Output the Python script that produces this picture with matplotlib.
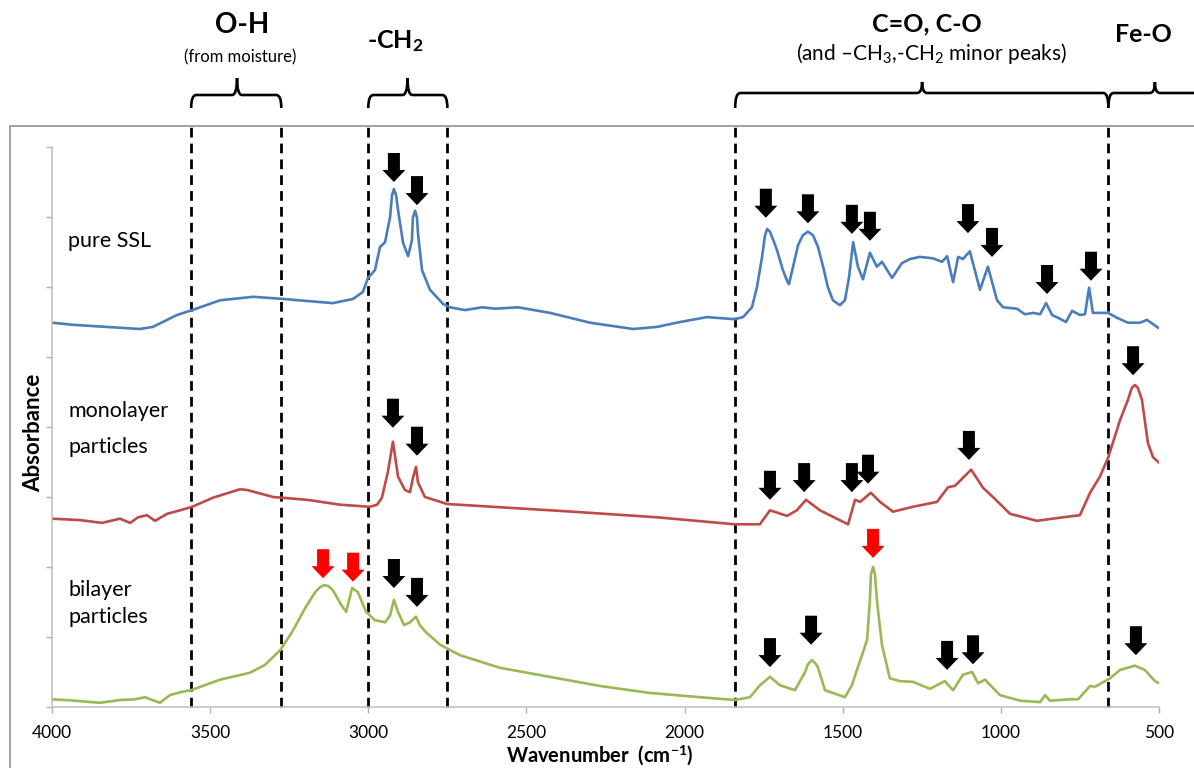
import matplotlib
matplotlib.use("Agg")
import matplotlib.pyplot as plt
from matplotlib.patches import Polygon, Rectangle, PathPatch
from matplotlib.path import Path
from matplotlib.transforms import ScaledTranslation, blended_transform_factory

plt.rcParams['font.family'] = ['Lato', 'DejaVu Sans']
plt.rcParams['mathtext.fontset'] = 'custom'
plt.rcParams['mathtext.rm'] = 'Lato'
plt.rcParams['mathtext.bf'] = 'Lato:bold'
plt.rcParams['mathtext.it'] = 'Lato:italic'

# ---------------- data ----------------
ssl_wn = [4000, 3934, 3722, 3681, 3605, 3557, 3469, 3364, 3270, 3194, 3112, 3048, 3017, 3001,
          2979, 2963, 2947, 2931, 2925, 2919, 2912, 2906, 2890, 2874, 2862, 2859, 2852, 2846,
          2843, 2830, 2805, 2764, 2742, 2694, 2640, 2599, 2527, 2425, 2299, 2163, 2087, 2014,
          1929, 1841, 1815, 1787, 1771, 1755, 1746, 1739, 1730, 1717, 1708, 1689, 1676, 1670,
          1657, 1641, 1626, 1610, 1594, 1578, 1562, 1547, 1531, 1509, 1493, 1480, 1467, 1452,
          1436, 1414, 1392, 1376, 1344, 1313, 1287, 1256, 1215, 1186, 1170, 1151, 1135, 1120,
          1098, 1066, 1041, 1012, 993, 949, 924, 898, 876, 857, 838, 819, 794, 775, 750, 734,
          721, 709, 661, 633, 598, 560, 538, 500]
ssl_abs = [5.49, 5.46, 5.40, 5.43, 5.60, 5.67, 5.81, 5.86, 5.83, 5.80, 5.77, 5.83, 5.93, 6.13,
           6.24, 6.57, 6.64, 7.00, 7.31, 7.40, 7.31, 7.10, 6.63, 6.44, 6.67, 6.99, 7.09, 6.99,
           6.77, 6.24, 5.96, 5.76, 5.71, 5.67, 5.71, 5.69, 5.71, 5.63, 5.49, 5.40, 5.43, 5.50,
           5.57, 5.54, 5.57, 5.71, 6.00, 6.43, 6.73, 6.83, 6.79, 6.64, 6.53, 6.24, 6.09, 6.04,
           6.29, 6.60, 6.74, 6.79, 6.74, 6.57, 6.29, 6.00, 5.81, 5.74, 5.81, 6.14, 6.64, 6.29,
           6.11, 6.49, 6.29, 6.36, 6.13, 6.34, 6.40, 6.43, 6.41, 6.36, 6.44, 6.07, 6.43, 6.40,
           6.51, 5.96, 6.29, 5.81, 5.71, 5.69, 5.61, 5.63, 5.61, 5.77, 5.60, 5.56, 5.50, 5.66,
           5.60, 5.61, 5.99, 5.63, 5.63, 5.56, 5.49, 5.49, 5.53, 5.41]

mono_wn = [4000, 3911, 3842, 3785, 3753, 3728, 3700, 3674, 3636, 3595, 3557, 3491, 3406, 3383,
           3301, 3194, 3089, 2995, 2972, 2957, 2938, 2922, 2906, 2884, 2868, 2859, 2849, 2843,
           2821, 2751, 2353, 2087, 1841, 1762, 1730, 1676, 1645, 1616, 1572, 1483, 1461, 1445,
           1411, 1382, 1341, 1278, 1202, 1167, 1145, 1094, 1056, 1025, 971, 886, 804, 750, 718,
           687, 661, 623, 598, 586, 576, 567, 554, 535, 519, 500]
mono_abs = [2.69, 2.67, 2.63, 2.69, 2.63, 2.71, 2.74, 2.66, 2.76, 2.81, 2.86, 2.99, 3.11, 3.10,
            3.00, 2.96, 2.89, 2.86, 2.89, 2.99, 3.36, 3.79, 3.29, 3.10, 3.07, 3.27, 3.43, 3.21,
            3.00, 2.90, 2.79, 2.71, 2.61, 2.61, 2.81, 2.73, 2.81, 2.96, 2.81, 2.61, 2.96, 2.93,
            3.06, 2.93, 2.79, 2.86, 2.93, 3.14, 3.16, 3.39, 3.13, 3.00, 2.76, 2.66, 2.71, 2.74,
            3.06, 3.29, 3.56, 4.10, 4.39, 4.56, 4.60, 4.56, 4.39, 3.77, 3.57, 3.49]

bi_wn = [4000, 3927, 3848, 3785, 3738, 3706, 3659, 3627, 3595, 3561, 3469, 3374, 3327, 3279,
         3241, 3200, 3168, 3153, 3140, 3127, 3112, 3086, 3070, 3051, 3033, 3007, 2979, 2947,
         2931, 2919, 2906, 2887, 2868, 2849, 2837, 2818, 2773, 2710, 2584, 2425, 2267, 2109,
         1951, 1841, 1793, 1762, 1730, 1698, 1651, 1619, 1610, 1597, 1584, 1578, 1556, 1493,
         1471, 1455, 1439, 1423, 1414, 1411, 1404, 1398, 1392, 1376, 1351, 1319, 1278, 1224,
         1177, 1151, 1120, 1091, 1072, 1050, 1003, 939, 876, 860, 845, 781, 756, 718, 702, 655,
         623, 576, 545, 513, 500]
bi_abs = [0.11, 0.09, 0.06, 0.10, 0.11, 0.14, 0.06, 0.17, 0.21, 0.24, 0.39, 0.49, 0.60, 0.81,
          1.07, 1.41, 1.64, 1.71, 1.74, 1.73, 1.67, 1.46, 1.36, 1.70, 1.64, 1.36, 1.24, 1.21,
          1.31, 1.53, 1.36, 1.17, 1.21, 1.29, 1.17, 1.07, 0.89, 0.74, 0.56, 0.43, 0.30, 0.20,
          0.14, 0.10, 0.14, 0.31, 0.43, 0.31, 0.24, 0.50, 0.61, 0.67, 0.61, 0.56, 0.24, 0.14,
          0.31, 0.53, 0.74, 0.96, 1.53, 1.89, 2.00, 1.89, 1.53, 0.89, 0.41, 0.37, 0.36, 0.26,
          0.37, 0.24, 0.46, 0.50, 0.34, 0.39, 0.17, 0.09, 0.07, 0.17, 0.09, 0.11, 0.11, 0.30,
          0.29, 0.41, 0.53, 0.59, 0.53, 0.37, 0.34]

ssl_arrow_wn = [2919, 2846, 1743, 1610, 1471, 1414, 1104, 1028, 854, 715]
ssl_arrow_abs = [7.50, 7.17, 6.99, 6.91, 6.76, 6.66, 6.77, 6.43, 5.90, 6.09]
mono_arrow_wn = [2922, 2846, 1730, 1622, 1471, 1420, 1101, 582]
mono_arrow_abs = [3.99, 3.59, 2.96, 3.07, 3.07, 3.19, 3.53, 4.74]
bi_arrow_wn = [2919, 2846, 1730, 1600, 1170, 1088, 573]
bi_arrow_abs = [1.70, 1.43, 0.57, 0.89, 0.53, 0.61, 0.74]
bi_red_arrow_wn = [3143, 3048, 1404]
bi_red_arrow_abs = [1.84, 1.79, 2.13]

region_edges = [3560, 3275, 3000, 2750, 1840, 660]
x_ticks = [4000, 3500, 3000, 2500, 2000, 1500, 1000, 500]

# ---------------- figure ----------------
W, H = 1194, 768
fig = plt.figure(figsize=(W / 100, H / 100), dpi=100)
fig.patch.set_facecolor('white')

# outer grey frame
fig.add_artist(Rectangle((10 / W, -0.05), 1.1, (768 - 126) / H + 0.05, transform=fig.transFigure,
                         fill=False, ec='#9a9a9a', lw=1.3))

ax = fig.add_axes([52 / W, 61 / H, 1107 / W, 560 / H])
ax.set_facecolor('none')

blue, red, green = '#4A7EBB', '#BE4B48', '#98B954'
for xs, ys, c in [(ssl_wn, ssl_abs, blue), (mono_wn, mono_abs, red), (bi_wn, bi_abs, green)]:
    ax.plot(xs, ys, color=c, lw=1.9, solid_joinstyle='round', solid_capstyle='round')

ax.set_xlim(4000, 500)
ax.set_ylim(0, 8)
ax.set_xticks(x_ticks)
ax.set_xticklabels([str(t) for t in x_ticks], fontsize=12.5)
ax.set_yticks(range(0, 9))
ax.set_yticklabels([])
ax.tick_params(axis='both', direction='out', length=4, width=1, color='#b0b0b0', pad=9)
for s in ['top', 'right']:
    ax.spines[s].set_visible(False)
for s in ['left', 'bottom']:
    ax.spines[s].set_color('#bdbdbd')
    ax.spines[s].set_linewidth(1.1)

# dashed region boundaries (extend up to the frame)
for e in region_edges:
    ax.axvline(e, ymin=0, ymax=(707 - 125) / 560, color='black', lw=2.0,
               ls=(0, (3.5, 2.2)), clip_on=False, zorder=1)

# block arrows pointing down at peaks
def arrow(wn, ab, color):
    tr = fig.dpi_scale_trans + ScaledTranslation(wn, ab, ax.transData)
    L, hl, hw, sw = 0.29, 0.12, 0.115, 0.06
    verts = [(0, 0), (-hw, hl), (-sw, hl), (-sw, L), (sw, L), (sw, hl), (hw, hl)]
    fig.add_artist(Polygon(verts, closed=True, transform=tr, fc=color, ec='none',
                           clip_on=False, zorder=5))

for w_, a_ in zip(ssl_arrow_wn, ssl_arrow_abs):
    arrow(w_, a_, 'black')
for w_, a_ in zip(mono_arrow_wn, mono_arrow_abs):
    arrow(w_, a_, 'black')
for w_, a_ in zip(bi_arrow_wn, bi_arrow_abs):
    arrow(w_, a_, 'black')
for w_, a_ in zip(bi_red_arrow_wn, bi_red_arrow_abs):
    arrow(w_, a_, '#FF0000')

# curly brackets above the plot (x in data, y in figure pixels from top)
btr = blended_transform_factory(ax.transData, fig.transFigure)
def fy(py):
    return (H - py) / H

def bracket(x0, x1, xc, y_line, y_end, y_top):
    r = 5 / 0.3163  # ~5 px radius in wavenumber units
    verts = [(x0, fy(y_end)), (x0, fy(y_line)), (x0 - r, fy(y_line)),
             (xc + r, fy(y_line)), (xc, fy(y_line)), (xc, fy(y_top)),
             (xc, fy(y_top)), (xc, fy(y_line)), (xc - r, fy(y_line)),
             (x1 + r, fy(y_line)), (x1, fy(y_line)), (x1, fy(y_end))]
    codes = [Path.MOVETO, Path.CURVE3, Path.CURVE3,
             Path.LINETO, Path.CURVE3, Path.CURVE3,
             Path.MOVETO, Path.CURVE3, Path.CURVE3,
             Path.LINETO, Path.CURVE3, Path.CURVE3]
    fig.add_artist(PathPatch(Path(verts, codes), transform=btr, fill=False, ec='black', lw=1.9,
                             clip_on=False, capstyle='butt', joinstyle='round'))

bracket(3560, 3275, 3415, 95, 108, 78)
bracket(3000, 2750, 2876, 95, 108, 78)
bracket(1840, 660, 1249, 93, 108, 82)
bracket(660, 364, 513, 93, 108, 82)

# header texts
def ftext(px, py, s, **kw):
    fig.text(px / W, (H - py) / H, s, ha='center', va='center', **kw)

ftext(242, 25, 'O-H', fontsize=20, fontweight='bold')
ftext(240, 57, '(from moisture)', fontsize=12)
ftext(395, 41, r'-CH$_{\mathbf{2}}$', fontsize=18, fontweight='bold')
ftext(927, 24, 'C=O, C-O', fontsize=18, fontweight='bold')
ftext(931, 54, r'(and –CH$_3$,-CH$_2$ minor peaks)', fontsize=15)
ftext(1143, 35, 'Fe-O', fontsize=18, fontweight='bold')

# curve labels
def ltext(px, py, s):
    fig.text(px / W, (H - py) / H, s, ha='left', va='center', fontsize=15.5)

ltext(68, 241, 'pure SSL')
ltext(68, 411, 'monolayer')
ltext(68, 447, 'particles')
ltext(68, 590, 'bilayer')
ltext(68, 617, 'particles')

# axis labels
ftext(600, 756, r'Wavenumber  (cm$^{\mathbf{-1}}$)', fontsize=14.5, fontweight='bold')
fig.text(34 / W, (H - 433) / H, 'Absorbance', rotation=90, ha='center', va='center',
         fontsize=16, fontweight='bold')

fig.savefig('out.png', dpi=100, facecolor='white')
